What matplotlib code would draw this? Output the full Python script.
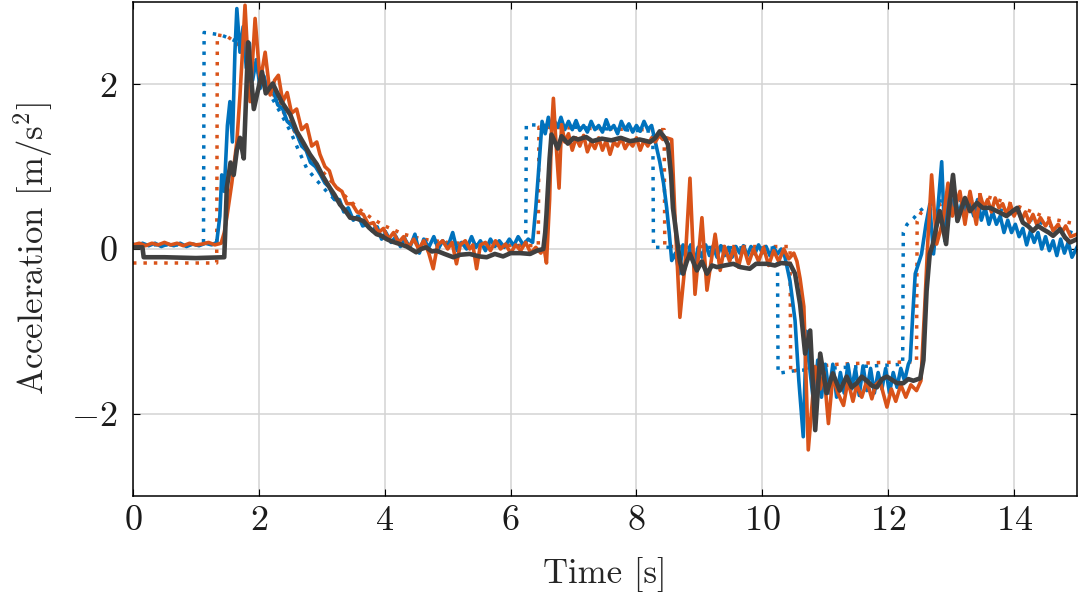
import matplotlib
matplotlib.use("Agg")
import matplotlib.pyplot as plt

plt.rcParams["font.family"] = "serif"
plt.rcParams["font.serif"] = ["cmr10"]
plt.rcParams["mathtext.fontset"] = "cm"
plt.rcParams["axes.formatter.use_mathtext"] = True

# reference (dotted) signals
t_ref_blue = [0, 1.12, 1.13, 1.4, 1.65, 1.8, 1.95, 2.1, 2.25, 2.36, 2.5, 2.63, 2.76, 2.9, 3.1,
              3.3, 3.5, 3.66, 3.85, 4.05, 4.3, 4.6, 5.0, 5.5, 6.24, 6.25, 6.6, 7.0, 7.5, 8.0,
              8.26, 8.27, 9.0, 10.24, 10.25, 10.5, 11.0, 11.5, 12.0, 12.23, 12.24, 12.3, 12.4,
              12.5, 12.6, 12.8, 13.0, 13.3, 13.6, 14.0, 14.5, 15.0]
a_ref_blue = [0.05, 0.05, 2.63, 2.6, 2.52, 2.4, 2.2, 1.98, 1.78, 1.63, 1.43, 1.2, 0.98, 0.85, 0.68,
              0.53, 0.42, 0.34, 0.26, 0.2, 0.14, 0.1, 0.07, 0.05, 0.04, 1.51, 1.5, 1.48, 1.46, 1.44,
              1.43, 0.02, 0.02, 0.01, -1.51, -1.48, -1.45, -1.43, -1.41, -1.4, 0.2, 0.3, 0.37,
              0.46, 0.52, 0.58, 0.6, 0.58, 0.52, 0.42, 0.3, 0.18]

t_ref_orange = [0, 1.33, 1.34, 1.5, 1.65, 1.8, 1.95, 2.1, 2.25, 2.4, 2.55, 2.7, 2.85, 3.0, 3.2,
                3.4, 3.6, 3.8, 4.0, 4.3, 4.6, 5.0, 5.6, 6.44, 6.45, 7.0, 7.5, 8.0, 8.44, 8.45,
                9.0, 10.44, 10.45, 10.55, 10.8, 11.2, 11.8, 12.45, 12.46, 12.52, 12.77, 13.0,
                13.46, 13.99, 14.52, 15.0]
a_ref_orange = [-0.17, -0.17, 2.6, 2.58, 2.5, 2.4, 2.25, 2.05, 1.85, 1.65, 1.45, 1.25, 1.08, 0.95, 0.78,
                0.62, 0.48, 0.37, 0.28, 0.18, 0.12, 0.08, 0.05, 0.04, 1.48, 1.47, 1.46, 1.45, 1.45, 0.03,
                0.03, 0.03, -1.5, -1.47, -1.43, -1.4, -1.38, -1.37, 0.34, 0.44, 0.52, 0.6,
                0.66, 0.54, 0.38, 0.3]

# measured (solid) signals
t_blue = [0.0, 0.08, 0.15, 0.25, 0.35, 0.45, 0.55, 0.65, 0.75, 0.85, 0.95, 1.05, 1.15, 1.25, 1.33,
          1.38, 1.41, 1.45, 1.5, 1.54, 1.58, 1.62, 1.65, 1.7, 1.75, 1.8, 1.85, 1.9, 1.96, 2.02,
          2.08, 2.15, 2.22, 2.3, 2.38, 2.45, 2.52, 2.6, 2.68, 2.75, 2.82, 2.9, 2.98, 3.05, 3.12,
          3.2, 3.28, 3.35, 3.42, 3.5, 3.58, 3.65, 3.72, 3.8, 3.88, 3.95, 4.02, 4.1, 4.18, 4.25,
          4.32, 4.4, 4.48, 4.55, 4.62, 4.7, 4.78, 4.85, 4.92, 5.0, 5.08, 5.15, 5.22, 5.3, 5.38,
          5.45, 5.52, 5.6, 5.68, 5.75, 5.82, 5.9, 5.98, 6.05, 6.12, 6.2, 6.28, 6.35, 6.4, 6.45,
          6.5, 6.55, 6.6, 6.65, 6.7, 6.75, 6.8, 6.86, 6.92, 6.98, 7.04, 7.1, 7.16, 7.22, 7.28,
          7.34, 7.4, 7.46, 7.52, 7.58, 7.64, 7.7, 7.76, 7.82, 7.88, 7.94, 8.0, 8.06, 8.12, 8.18,
          8.24, 8.3, 8.37, 8.43, 8.48, 8.52, 8.56, 8.62, 8.68, 8.74, 8.8, 8.86, 8.92, 8.98, 9.04,
          9.1, 9.16, 9.22, 9.28, 9.34, 9.4, 9.46, 9.52, 9.58, 9.64, 9.7, 9.76, 9.82, 9.88, 9.94,
          10.0, 10.06, 10.12, 10.18, 10.24, 10.3, 10.36, 10.44, 10.52, 10.58, 10.65, 10.7, 10.76,
          10.82, 10.88, 10.94, 11.0, 11.06, 11.12, 11.18, 11.24, 11.3, 11.36, 11.42, 11.48,
          11.54, 11.6, 11.66, 11.72, 11.78, 11.84, 11.9, 11.96, 12.02, 12.08, 12.14, 12.2,
          12.26, 12.32, 12.35, 12.39, 12.43, 12.48, 12.53, 12.6, 12.66, 12.72, 12.78, 12.85,
          12.9, 12.95, 13.0, 13.06, 13.12, 13.18, 13.24, 13.3, 13.36, 13.42, 13.48, 13.54, 13.6,
          13.66, 13.72, 13.78, 13.84, 13.9, 13.96, 14.02, 14.08, 14.14, 14.2, 14.26, 14.32,
          14.38, 14.44, 14.5, 14.56, 14.62, 14.68, 14.74, 14.8, 14.86, 14.92, 15.0]
a_blue = [0.06, 0.03, 0.07, 0.04, 0.07, 0.03, 0.06, 0.04, 0.07, 0.03, 0.06, 0.04, 0.07, 0.05, 0.08,
          0.4, 0.9, 0.7, 1.5, 1.79, 1.3, 2.4, 2.92, 2.39, 2.7, 2.2, 2.5, 2.05, 2.3, 1.95,
          2.1, 1.9, 1.95, 1.75, 1.7, 1.55, 1.5, 1.4, 1.25, 1.2, 1.05, 1.0, 0.9, 0.8, 0.75,
          0.6, 0.6, 0.45, 0.5, 0.35, 0.4, 0.28, 0.3, 0.22, 0.27, 0.12, 0.2, 0.08, 0.15, 0.03,
          0.12, 0.02, 0.18, -0.05, 0.12, 0.02, 0.15, 0.0, 0.1, 0.02, 0.2, -0.02, 0.08, 0.0, 0.15,
          0.02, 0.1, -0.02, 0.12, 0.03, 0.1, 0.02, 0.12, 0.04, 0.15, 0.05, 0.12, 0.08, 0.5, 1.0,
          1.55, 1.4, 1.6, 1.45, 1.55, 1.48, 1.6, 1.45, 1.55, 1.45, 1.56, 1.44, 1.5, 1.42, 1.55,
          1.45, 1.5, 1.42, 1.57, 1.45, 1.5, 1.4, 1.55, 1.45, 1.52, 1.42, 1.5, 1.43, 1.55, 1.45,
          1.5, 1.3, 1.06, 0.8, 0.5, 0.2, -0.14, -0.05, -0.3, 0.05, -0.15, 0.05, -0.2, 0.02, -0.1,
          0.05, -0.08, 0.03, -0.1, 0.04, -0.08, 0.02, -0.1, 0.03, -0.05, 0.04, -0.08, 0.03, -0.06, 0.05,
          -0.05, 0.03, -0.08, 0.02, -0.06, 0.0, -0.1, -0.39, -0.87, -1.6, -2.28, -1.0, -1.5,
          -1.9, -1.35, -1.8, -1.4, -1.75, -1.4, -1.8, -1.5, -1.75, -1.4, -1.7, -1.45,
          -1.78, -1.42, -1.72, -1.45, -1.75, -1.5, -1.7, -1.45, -1.75, -1.5, -1.68, -1.45,
          -1.6, -1.4, -1.35, -0.8, -0.3, -0.18, -0.06, 0.3, 0.54, -0.06, 0.4, 1.06,
          0.1, 0.62, 0.45, 0.65, 0.4, 0.6, 0.45, 0.55, 0.4, 0.6, 0.35, 0.5, 0.3,
          0.45, 0.3, 0.4, 0.2, 0.35, 0.2, 0.3, 0.15, 0.25, 0.05, 0.22, 0.08,
          0.2, 0.0, 0.15, -0.02, 0.1, -0.08, 0.12, -0.05, 0.08, -0.1, 0.02]

t_orange = [0.0, 0.1, 0.2, 0.3, 0.4, 0.5, 0.6, 0.7, 0.8, 0.9, 1.0, 1.1, 1.2, 1.3, 1.4, 1.45, 1.49,
            1.57, 1.65, 1.7, 1.74, 1.78, 1.86, 1.94, 2.02, 2.1, 2.18, 2.25, 2.31, 2.38, 2.45, 2.52,
            2.6, 2.68, 2.76, 2.84, 2.92, 2.97, 3.05, 3.12, 3.18, 3.24, 3.32, 3.4, 3.48, 3.56, 3.66,
            3.74, 3.82, 3.9, 3.98, 4.06, 4.14, 4.22, 4.3, 4.38, 4.46, 4.54, 4.62, 4.7, 4.77, 4.84,
            4.92, 5.0, 5.07, 5.14, 5.2, 5.28, 5.35, 5.4, 5.46, 5.52, 5.6, 5.68, 5.76, 5.84, 5.92,
            6.0, 6.08, 6.16, 6.24, 6.32, 6.4, 6.48, 6.53, 6.57, 6.62, 6.65, 6.68, 6.72, 6.77, 6.81,
            6.86, 6.92, 6.98, 7.04, 7.1, 7.16, 7.22, 7.28, 7.34, 7.4, 7.46, 7.52, 7.58, 7.64, 7.7,
            7.76, 7.82, 7.88, 7.94, 8.0, 8.06, 8.12, 8.18, 8.24, 8.3, 8.36, 8.42, 8.48, 8.56, 8.61,
            8.69, 8.77, 8.85, 8.93, 9.04, 9.12, 9.25, 9.33, 9.4, 9.48, 9.55, 9.62, 9.7, 9.78, 9.86,
            9.94, 10.02, 10.1, 10.18, 10.26, 10.34, 10.42, 10.5, 10.55, 10.6, 10.66, 10.73, 10.84,
            10.92, 10.98, 11.05, 11.12, 11.2, 11.29, 11.36, 11.44, 11.5, 11.58, 11.66, 11.74, 11.8,
            11.87, 11.92, 11.98, 12.05, 12.12, 12.2, 12.28, 12.36, 12.45, 12.52, 12.58, 12.63,
            12.69, 12.77, 12.87, 12.95, 13.02, 13.08, 13.14, 13.22, 13.3, 13.4, 13.46, 13.52,
            13.58, 13.64, 13.7, 13.76, 13.82, 13.88, 13.94, 14.0, 14.06, 14.12, 14.18, 14.24,
            14.3, 14.36, 14.42, 14.5, 14.56, 14.62, 14.7, 14.76, 14.82, 14.9, 15.0]
a_orange = [0.05, 0.07, 0.04, 0.07, 0.05, 0.08, 0.05, 0.07, 0.04, 0.07, 0.05, 0.06, 0.08, 0.05, 0.07, 0.2, 0.38,
            0.8, 1.3, 1.87, 2.4, 2.96, 1.79, 2.8, 2.03, 2.39, 1.87, 2.05, 2.11, 1.79, 1.9, 1.65,
            1.7, 1.45, 1.51, 1.25, 1.3, 1.15, 1.0, 0.95, 0.8, 0.74, 0.7, 0.55, 0.55, 0.45, 0.42,
            0.3, 0.32, 0.2, 0.25, 0.12, 0.2, 0.08, 0.15, 0.02, 0.12, 0.0, 0.1, -0.05, -0.24, 0.05,
            0.1, 0.0, 0.08, -0.18, 0.05, 0.1, 0.0, 0.05, -0.24, 0.05, 0.08, -0.02, 0.1, 0.0, 0.06,
            -0.05, 0.05, -0.02, 0.08, -0.05, 0.02, -0.05, 0.02, -0.17, 0.6, 1.43, 1.83, 1.3, 0.74, 1.51,
            1.3, 1.4, 1.2, 1.35, 1.25, 1.38, 1.18, 1.3, 1.22, 1.35, 1.2, 1.32, 1.15, 1.3, 1.25,
            1.35, 1.22, 1.3, 1.25, 1.35, 1.2, 1.32, 1.25, 1.35, 1.3, 1.38, 1.33, 1.35, 1.33, 0.42,
            -0.83, -0.2, 0.86, -0.55, 0.38, -0.5, 0.18, -0.26, 0.03, -0.15, 0.02, -0.22, 0.03, -0.18, 0.0,
            -0.15, 0.02, -0.2, -0.02, -0.15, 0.0, -0.12, -0.05, -0.15, -0.36, -0.7, -2.44, -1.43,
            -1.7, -1.5, -2.12, -1.55, -1.75, -1.9, -1.6, -1.85, -1.65, -1.8, -1.6, -1.82, -1.65,
            -1.6, -1.75, -1.92, -1.7, -1.85, -1.65, -1.8, -1.65, -1.72, -1.6, -0.71, 0.1,
            0.9, 0.06, 0.34, 0.8, 0.4, 0.55, 0.7, 0.3, 0.7, 0.3, 0.66, 0.5,
            0.6, 0.45, 0.62, 0.5, 0.55, 0.42, 0.55, 0.4, 0.5, 0.35, 0.45, 0.32,
            0.42, 0.3, 0.38, 0.28, 0.35, 0.22, 0.3, 0.2, 0.28, 0.15, 0.18]

t_gray = [0.0, 0.15, 0.17, 0.5, 1.0, 1.45, 1.47, 1.49, 1.55, 1.6, 1.65, 1.7, 1.76, 1.83, 1.92, 2.05,
          2.11, 2.22, 2.36, 2.5, 2.6, 2.7, 2.81, 2.92, 3.02, 3.13, 3.2, 3.29, 3.37, 3.45, 3.55,
          3.66, 3.75, 3.87, 3.95, 4.03, 4.12, 4.24, 4.35, 4.5, 4.58, 4.66, 4.75, 4.82, 4.95,
          5.09, 5.2, 5.35, 5.5, 5.62, 5.75, 5.88, 6.0, 6.15, 6.31, 6.42, 6.52, 6.55, 6.57, 6.62,
          6.65, 6.75, 6.81, 6.91, 7.0, 7.07, 7.2, 7.3, 7.45, 7.6, 7.75, 7.9, 8.05, 8.22, 8.3,
          8.37, 8.45, 8.5, 8.55, 8.58, 8.64, 8.69, 8.74, 8.8, 8.85, 8.96, 9.04, 9.12, 9.2, 9.28,
          9.4, 9.54, 9.65, 9.8, 9.9, 10.07, 10.2, 10.3, 10.44, 10.52, 10.6, 10.68, 10.76, 10.84,
          10.92, 11.02, 11.12, 11.23, 11.34, 11.42, 11.5, 11.58, 11.66, 11.74, 11.82, 11.9,
          11.98, 12.08, 12.14, 12.24, 12.32, 12.4, 12.51, 12.56, 12.61, 12.66, 12.71, 12.76,
          12.82, 12.92, 12.97, 13.03, 13.1, 13.22, 13.3, 13.41, 13.5, 13.62, 13.7, 13.78, 13.88,
          13.96, 14.05, 14.14, 14.22, 14.3, 14.38, 14.46, 14.55, 14.62, 14.73, 14.81, 14.89, 15.0]
a_gray = [0.02, 0.02, -0.1, -0.1, -0.11, -0.1, 0.3, 0.74, 1.05, 0.9, 1.2, 1.35, 1.1, 2.51, 1.7, 2.15,
          1.89, 2.01, 1.79, 1.63, 1.43, 1.3, 1.15, 1.03, 0.88, 0.74, 0.66, 0.54, 0.47, 0.38, 0.37,
          0.34, 0.26, 0.18, 0.16, 0.12, 0.09, 0.06, 0.03, -0.04, 0.0, 0.02, -0.03, -0.02, -0.06,
          -0.1, -0.07, -0.06, -0.09, -0.1, -0.06, -0.09, -0.05, -0.05, -0.06, -0.02, 0.0, 0.2, 0.42, 1.1,
          1.39, 1.22, 1.37, 1.28, 1.35, 1.33, 1.36, 1.31, 1.34, 1.32, 1.35, 1.31, 1.33, 1.3, 1.35,
          1.43, 1.35, 1.27, 0.9, 0.5, 0.15, -0.15, -0.3, -0.15, -0.06, -0.26, -0.15, -0.3, -0.2, -0.22,
          -0.2, -0.18, -0.22, -0.24, -0.18, -0.18, -0.2, -0.17, -0.18, -0.3, -0.67, -1.27, -0.99, -2.2,
          -1.27, -1.75, -1.51, -1.72, -1.55, -1.68, -1.63, -1.55, -1.6, -1.66, -1.68, -1.58,
          -1.55, -1.6, -1.63, -1.63, -1.58, -1.6, -1.57, -1.35, -0.51, -0.06, 0.06, 0.25,
          0.46, 0.06, 0.5, 0.9, 0.34, 0.62, 0.46, 0.56, 0.5, 0.5, 0.47, 0.44, 0.4,
          0.45, 0.5, 0.32, 0.28, 0.22, 0.28, 0.24, 0.2, 0.16, 0.24, 0.14, 0.08, 0.12]

blue = "#0072BD"
orange = "#D95319"
gray = "#404040"

fig = plt.figure(figsize=(10.78, 6.06), dpi=100)
ax = fig.add_axes([133 / 1078, 1 - 496 / 606, 944 / 1078, 494 / 606])

dots = (0, (1, 2.0))
ax.plot(t_ref_blue, a_ref_blue, color=blue, lw=2.5, linestyle=dots, dash_capstyle="butt")
ax.plot(t_ref_orange, a_ref_orange, color=orange, lw=2.5, linestyle=dots, dash_capstyle="butt")
ax.plot(t_blue, a_blue, color=blue, lw=2.6)
ax.plot(t_orange, a_orange, color=orange, lw=2.6)
ax.plot(t_gray, a_gray, color=gray, lw=3.3)

ax.set_xlim(0, 15)
ax.set_ylim(-3, 3)
ax.set_xticks([0, 2, 4, 6, 8, 10, 12, 14])
ax.set_yticks([-2, 0, 2])
ax.grid(True, color="#d3d3d3", lw=1.1)
ax.set_axisbelow(True)
ax.tick_params(direction="in", length=5, width=0.8, top=True, right=True,
               labelsize=26, labelcolor="#1a1a1a")
ax.tick_params(axis="x", pad=7)
ax.tick_params(axis="y", pad=11)
for s in ax.spines.values():
    s.set_linewidth(1.1)
    s.set_color("black")

ax.set_xlabel("Time [s]", fontsize=25, labelpad=14, color="#262626")
ax.set_ylabel(r"Acceleration [m/s$^2$]", fontsize=25, labelpad=12, color="#262626")

fig.savefig("out.png", dpi=100)
